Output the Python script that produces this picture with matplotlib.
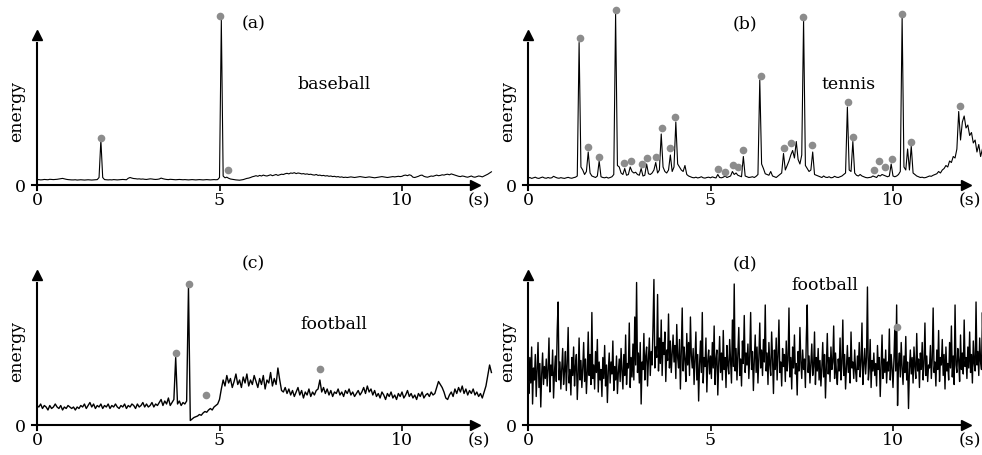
import numpy as np
import matplotlib
matplotlib.use("Agg")
import matplotlib.pyplot as plt

plt.rcParams['font.family'] = ['DejaVu Serif']

# sample spacing of the energy curves (s)
dt_abc = 0.05
dt_d = 0.025

# (a) baseball
energy_a = [.035, .036, .034, .035, .037, .036, .035, .038, .037, .036,
            .037, .038, .040, .042, .044, .041, .038, .036, .035, .034,
            .034, .035, .033, .034, .035, .034, .033, .034, .035, .034,
            .033, .034, .035, .036, .05, .30, .05,
            .036, .035, .034, .035, .034, .036, .035, .034, .035, .036, .037, .036, .035,
            .045, .050, .046, .043,
            .042, .040, .041, .039, .040, .038, .037, .039, .041, .040, .038, .037, .038, .040, .046, .042,
            .039, .037, .036, .038, .037, .036, .035, .036, .037, .036,
            .035, .036, .035, .034, .035, .036, .035, .034, .035, .036,
            .035, .034, .035, .036, .035, .034, .035, .036, .035, .036,
            .05, 1.10, .06, .048, .052, .045, .040,
            .038, .036, .034, .033, .032, .034, .036, .040, .044, .046, .050, .055, .058,
            .062, .058, .064, .060, .066, .062, .060, .064, .068, .062,
            .066, .070, .064, .068, .072, .070, .075, .078, .074, .080,
            .078, .082, .076, .080, .078, .074, .076, .072, .074, .070,
            .072, .068, .066, .070, .064, .066, .062, .064, .060, .062,
            .058, .060, .056, .058, .054, .056, .052, .054, .050, .052,
            .050, .052, .054, .052, .050, .052, .054, .056, .054, .052,
            .050, .052, .054, .052, .050, .048, .050, .052, .054, .056,
            .054, .052, .050, .052, .054, .056, .054, .056, .058, .056,
            .058, .064, .066, .062, .068, .064, .052, .050, .054, .058,
            .064, .066, .058, .054, .052, .056, .060, .058, .062, .066,
            .062, .064, .068, .066, .070, .072, .068, .074, .070, .066,
            .062, .058, .056, .060, .058, .054, .052, .056, .060, .054,
            .052, .056, .060, .058, .054, .060, .066, .072, .080, .088]
peaks_a_t = [1.75, 5.02, 5.23]
peaks_a_v = [0.315, 1.127, 0.10]

# (b) tennis
energy_b = [.045, .050, .044, .048, .052, .046, .044, .049, .053, .047,
            .045, .050, .046, .048, .058, .052, .047, .045, .049, .046,
            .044, .048, .051, .047, .045, .049, .052, .060,
            .95, .12, .10, .07, .09, .22, .08, .06, .055, .05, .06, .16, .055, .05,
            .048, .052, .046, .050, .055, .07, 1.14, .13, .12, .08, .07, .11,
            .065, .07, .12, .09, .08, .085, .07, .065, .11, .06, .065, .14,
            .075, .07, .08, .10, .15, .08, .10, .34, .12, .09, .08, .10, .20,
            .09, .12, .42, .14, .12, .10, .09, .13, .07, .06,
            .055, .05, .048, .052, .047, .05, .055, .048, .046, .05, .052, .048, .054, .05, .047,
            .07, .05, .048, .052, .06, .05, .055, .06, .09, .07, .08, .065, .06, .055, .19, .06,
            .055, .05, .052, .055, .05, .058, .07, .70, .14, .11, .075, .07, .065, .09, .06,
            .055, .05, .06, .07, .08, .21, .10, .13, .16, .20, .23, .18, .29, .17, .14, .20,
            1.10, .13, .11, .09, .10, .22, .07,
            .065, .06, .055, .05, .06, .052, .05, .055, .048, .05, .058, .052, .05, .055, .06,
            .07, .08, .52, .10, .09, .29, .08, .065, .06, .07, .06, .055,
            .05, .048, .05, .052, .06, .055, .05, .065, .06, .07, .065, .06, .055, .06, .14,
            .06, .055, .06, .07, .09, 1.12, .12, .10, .24, .10, .26, .08, .07,
            .06, .055, .05, .052, .048, .05, .055, .06, .058, .065, .07,
            .075, .09, .08, .10, .11, .13, .12, .16, .15, .19, .18, .24, .49, .30, .42,
            .46, .38, .40, .33, .35, .28, .30, .22, .27, .19, .24]
peaks_b_t = [1.42, 1.65, 1.95, 2.40, 2.63, 2.82, 3.11, 3.27, 3.51, 3.66, 3.89,
             4.04, 5.20, 5.40, 5.62, 5.75, 5.90, 6.38, 7.01, 7.20, 7.53, 7.79,
             8.77, 8.90, 9.47, 9.62, 9.77, 9.97, 10.25, 10.48, 11.84]
peaks_b_v = [0.978, 0.251, 0.189, 1.167, 0.149, 0.162, 0.140, 0.182, 0.184, 0.378, 0.244,
             0.456, 0.104, 0.089, 0.133, 0.118, 0.233, 0.729, 0.247, 0.278, 1.12, 0.267,
             0.551, 0.322, 0.100, 0.160, 0.122, 0.173, 1.142, 0.289, 0.527]

# (c) football
energy_c = [.13, .12, .14, .11, .13, .12, .10, .13, .11, .12,
            .14, .12, .11, .13, .10, .12, .11, .13, .12, .11,
            .12, .10, .12, .11, .13, .12, .14, .11, .13, .15,
            .12, .14, .11, .13, .12, .14, .11, .13, .12, .14,
            .11, .13, .12, .14, .12, .11, .13, .12, .14, .11,
            .13, .12, .14, .13, .11, .14, .12, .13, .15, .12,
            .14, .12, .13, .15, .12, .14, .13, .15, .17, .13,
            .16, .14, .18, .13, .15, .17, .45,
            .14, .16, .13, .15, .14, .16, .92, .03,
            .04, .05, .055, .06, .07, .065, .08, .09, .085, .10, .11, .10, .12, .13, .14,
            .17, .24, .30, .26, .33, .28, .31, .25, .29, .34,
            .27, .30, .25, .32, .28, .34, .26, .30, .27, .33,
            .29, .25, .31, .27, .33, .24, .30, .28, .35, .26,
            .31, .27, .38, .30, .23, .22, .25, .21, .24, .20,
            .23, .19, .22, .25, .20, .23, .18, .22, .20, .24,
            .19, .22, .20, .23, .24, .30, .22, .25, .21, .24,
            .20, .23, .19, .22, .21, .24, .20, .22, .19, .23,
            .21, .24, .20, .22, .19, .21, .23, .20, .22, .25,
            .21, .26, .22, .24, .20, .23, .19, .21, .18, .22,
            .20, .17, .21, .19, .22, .18, .20, .17, .21, .19,
            .22, .18, .20, .23, .19, .21, .18, .20, .17, .21,
            .19, .22, .18, .20, .21, .19, .22, .20, .21, .25,
            .29, .27, .25, .22, .18, .17, .20, .22, .19, .24,
            .21, .25, .22, .26, .21, .24, .20, .23, .21, .24,
            .20, .22, .19, .21, .18, .22, .26, .33, .40, .35]
peaks_c_t = [3.82, 4.17, 4.64, 7.76]
peaks_c_v = [0.478, 0.94, 0.20, 0.371]

# (d) football, in hundredths
energy_d = [33, 21, 45, 28, 52, 14, 38, 30, 47, 19, 36, 55, 25, 41, 12, 34, 48, 27, 39, 31,
            44, 26, 37, 58, 22, 40, 33, 50, 18, 35, 46, 29, 63, 82, 30, 42, 24, 38, 51, 27,
            36, 49, 23, 41, 65, 28, 37, 20, 45, 33, 52, 26, 39, 47, 17, 34, 58, 30, 43, 25,
            38, 55, 29, 44, 21, 36, 62, 33, 47, 27, 75, 31, 40, 24, 49, 35, 57, 22, 42, 30,
            37, 19, 45, 31, 53, 26, 40, 15, 36, 48, 28, 42, 34, 56, 23, 39, 30, 46, 21, 35,
            44, 29, 51, 36, 24, 47, 33, 60, 27, 41, 38, 68, 25, 45, 32, 54, 30, 72, 40, 95,
            35, 48, 28, 55, 14, 42, 37, 61, 30, 46, 52, 26, 44, 58, 33, 49, 40, 66, 97, 38,
            52, 45, 87, 36, 58, 41, 70, 33, 55, 47, 62, 29, 50, 43, 74, 38, 56, 35, 48, 60,
            42, 53, 31, 67, 45, 38, 57, 24, 49, 78, 36, 52, 44, 29, 61, 40, 55, 33, 72, 46,
            38, 51, 27, 44, 62, 30, 47, 16, 40, 56, 35, 75, 28, 45, 39, 58, 22, 43, 50, 34,
            46, 31, 55, 38, 66, 27, 44, 50, 20, 41, 59, 35, 48, 30, 63, 37, 45, 25, 53, 40,
            34, 57, 42, 28, 70, 39, 94, 36, 51, 30, 47, 65, 33, 44, 26, 56, 41, 73, 35, 48,
            40, 54, 31, 46, 75, 37, 49, 23, 43, 60, 35, 52, 28, 45, 68, 38, 50, 33, 57, 42,
            80, 36, 48, 27, 55, 40, 33, 62, 44, 21, 50, 37, 58, 30, 46, 70, 35, 42, 26, 51,
            39, 47, 29, 56, 36, 43, 78, 32, 45, 24, 52, 38, 60, 34, 41, 20, 49, 36, 65, 42,
            31, 50, 37, 44, 25, 58, 80, 35, 46, 28, 41, 54, 33, 39, 62, 27, 45, 36, 51, 30,
            43, 26, 38, 55, 32, 47, 18, 40, 61, 34, 45, 29, 52, 37, 42, 66, 31, 48, 35, 27,
            44, 36, 58, 30, 41, 70, 33, 47, 24, 39, 53, 35, 45, 28, 62, 38, 42, 31, 50, 36,
            29, 46, 37, 55, 32, 42, 68, 27, 40, 51, 34, 45, 92, 30, 38, 57, 25, 43, 36, 48,
            33, 41, 26, 53, 37, 45, 19, 39, 60, 31, 44, 35, 50, 28, 42, 36, 64, 30, 47, 38,
            25, 43, 65, 36, 80, 13, 40, 48, 32, 55, 38, 27, 46, 35, 59, 30, 42, 11, 37, 50,
            34, 45, 28, 52, 39, 31, 61, 36, 44, 25, 48, 37, 55, 30, 41, 68, 33, 46, 29, 40,
            38, 53, 31, 44, 78, 35, 42, 26, 50, 37, 63, 29, 45, 40, 57, 33, 47, 24, 52, 36,
            41, 30, 55, 38, 66, 32, 46, 27, 80, 40, 35, 51, 43, 29, 60, 37, 48, 34, 70, 39,
            45, 31, 52, 38, 62, 35, 47, 28, 56, 41, 36, 82, 40, 49, 33, 58, 42, 37, 75, 44]
peaks_d_t = [10.10]
peaks_d_v = [0.656]

W, H = 982, 455
fig = plt.figure(figsize=(W / 100, H / 100), dpi=100)

XLIM = (-0.2, 12.6)
YLIM = (-0.15, 1.2)


def make_axes(ox, oy, ppx=36.5, ppy=150):
    # place an axes so that data origin lands on pixel (ox, oy)
    left = ox + XLIM[0] * ppx
    right = ox + XLIM[1] * ppx
    top = oy - YLIM[1] * ppy
    bottom = oy - YLIM[0] * ppy
    ax = fig.add_axes([left / W, 1 - bottom / H, (right - left) / W, (bottom - top) / H])
    ax.set_xlim(*XLIM)
    ax.set_ylim(*YLIM)
    ax.patch.set_visible(False)
    for s in ['top', 'right']:
        ax.spines[s].set_visible(False)
    ax.spines['bottom'].set_position(('data', 0))
    ax.spines['left'].set_position(('data', 0))
    ax.spines['bottom'].set_bounds(-0.15, 11.85)
    ax.spines['left'].set_bounds(-0.03, 0.95)
    ax.spines['bottom'].set_linewidth(1.5)
    ax.spines['left'].set_linewidth(1.5)
    ax.plot([12.0], [0], marker='>', color='k', ms=7, clip_on=False)
    ax.plot([0], [1.0], marker='^', color='k', ms=7, clip_on=False)
    ax.set_xticks([0, 5, 10])
    ax.set_xticklabels(['0', '5', '10'], fontsize=12.5)
    ax.tick_params(axis='x', direction='out', length=4, width=1.2, pad=1)
    ax.set_yticks([0])
    ax.set_yticklabels(['0'], fontsize=12.5)
    ax.tick_params(axis='y', length=0, pad=8)
    ax.text(12.1, -0.105, '(s)', fontsize=12.5, ha='center', va='center')
    ax.text(-0.55, 0.49, 'energy', fontsize=12.5, rotation=90, ha='center', va='center')
    return ax


panels = [
    (37, 185, energy_a, dt_abc, 0.8, peaks_a_t, peaks_a_v, '(a)', 'baseball', (8.13, 0.667)),
    (528, 185, energy_b, dt_abc, 0.8, peaks_b_t, peaks_b_v, '(b)', 'tennis', (8.77, 0.667)),
    (37, 425, energy_c, dt_abc, 1.0, peaks_c_t, peaks_c_v, '(c)', 'football', (8.13, 0.667)),
    (528, 425, np.array(energy_d) / 100, dt_d, 1.0, peaks_d_t, peaks_d_v, '(d)', 'football', (8.14, 0.933)),
]

for ox, oy, vals, dt, lw, pt, pv, tag, sport, spos in panels:
    ax = make_axes(ox, oy)
    t = np.arange(len(vals)) * dt
    ax.plot(t, vals, color='k', lw=lw, clip_on=False)
    ax.plot(pt, pv, 'o', color='#8c8c8c', ms=5.5, mec='none', clip_on=False)
    ax.text(5.93, 1.075, tag, fontsize=12.5, ha='center', va='center')
    ax.text(spos[0], spos[1], sport, fontsize=12.5, ha='center', va='center')

fig.savefig('out.png', dpi=100)
